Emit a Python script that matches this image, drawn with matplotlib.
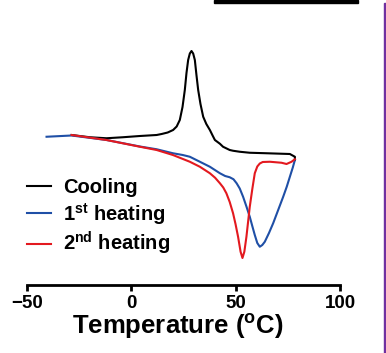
import matplotlib
matplotlib.use("Agg")
import matplotlib.pyplot as plt
from matplotlib.patches import Rectangle

plt.rcParams['font.family'] = ['Liberation Sans', 'DejaVu Sans']
plt.rcParams['font.weight'] = 'bold'
plt.rcParams['mathtext.fontset'] = 'custom'
plt.rcParams['mathtext.rm'] = 'Liberation Sans:bold'
plt.rcParams['mathtext.bf'] = 'Liberation Sans:bold'

# DSC traces (temperature in C, heat flow in arbitrary units)
cool_t = [78.4, 78.4, 76.0, 64.8, 56.8, 52.0, 48.8, 47.2, 44.0, 42.5, 40.1, 39.0,
          37.7, 36.0, 34.5, 33.2, 32.1, 31.3, 30.5, 29.7, 28.9, 28.1, 27.3, 26.5,
          25.7, 24.6, 23.3, 21.8, 20.1, 17.5, 14.6, 12.2, 4.2, -4.0, -11.8, -19.8, -28.5]
cool_q = [-0.28, -0.15, -0.04, -0.01, 0.01, 0.05, 0.09, 0.12, 0.25, 0.37, 0.52, 0.70,
          0.92, 1.16, 1.45, 1.96, 2.52, 3.10, 3.72, 3.98, 4.08, 3.98, 3.72, 3.20,
          2.52, 1.84, 1.32, 1.06, 0.92, 0.82, 0.76, 0.72, 0.68, 0.63, 0.59, 0.63, 0.72]

heat1_t = [-40.5, -28.5, -11.8, 4.2, 12.2, 20.0, 24.7, 28.1, 32.9, 37.7, 42.5, 45.0,
           47.2, 49.0, 50.5, 52.0, 53.6, 55.2, 56.8, 58.0, 59.2, 60.4, 61.6, 62.8,
           64.0, 66.0, 68.0, 70.4, 72.8, 74.5, 76.0, 77.4, 78.4]
heat1_q = [0.65, 0.70, 0.52, 0.26, 0.15, -0.01, -0.08, -0.15, -0.35, -0.55, -0.81, -0.92,
           -0.97, -1.05, -1.21, -1.42, -1.75, -2.14, -2.55, -2.92, -3.28, -3.60, -3.75, -3.68,
           -3.55, -3.20, -2.81, -2.28, -1.75, -1.35, -0.95, -0.58, -0.28]

heat2_t = [-28.5, -11.8, 4.2, 12.2, 20.0, 28.1, 32.9, 37.7, 40.2, 42.5, 44.1, 45.6,
           47.2, 48.8, 50.0, 51.2, 52.4, 53.3, 54.2, 55.2, 56.0, 56.8, 58.0, 59.2,
           60.4, 61.6, 63.0, 66.4, 72.0, 74.4, 76.8, 78.4]
heat2_q = [0.72, 0.52, 0.25, 0.12, -0.08, -0.35, -0.55, -0.81, -0.99, -1.21, -1.38, -1.61,
           -1.96, -2.41, -2.85, -3.35, -3.95, -4.20, -3.95, -3.35, -2.75, -2.15, -1.45, -0.81,
           -0.54, -0.42, -0.36, -0.35, -0.39, -0.44, -0.35, -0.25]

fig = plt.figure(figsize=(3.86, 3.53), dpi=100)
ax = fig.add_axes([26.7 / 386, 68 / 353, 313.3 / 386, 265 / 353])

ax.plot(cool_t, cool_q, color='black', lw=1.5, label='Cooling')
ax.plot(heat1_t, heat1_q, color='#1f4fa6', lw=1.5, label=r'1$^{\mathbf{st}}$ heating')
ax.plot(heat2_t, heat2_q, color='#e3191f', lw=1.5, label=r'2$^{\mathbf{nd}}$ heating')

ax.set_xlim(-50, 100)
ax.set_ylim(-5.28, 5.32)
ax.set_xticks([-50, 0, 50, 100])
ax.set_yticks([])
for s in ['left', 'top', 'right']:
    ax.spines[s].set_visible(False)
ax.spines['bottom'].set_linewidth(2)
ax.tick_params(axis='x', length=4, width=2, labelsize=13.5, pad=3)
ax.set_xlabel('Temperature ($^{\\mathbf{o}}$C)', fontsize=18.5, fontweight='bold', labelpad=0)
ax.xaxis.label.set_x(0.483)

ax.legend(loc='upper left', bbox_to_anchor=(17 / 386, 1 - 168 / 353),
          bbox_transform=fig.transFigure, frameon=False, fontsize=14.5,
          handlelength=1.2, handletextpad=0.6, labelspacing=0.18, borderpad=0)

# cropped bits from the source figure
fig.patches.append(Rectangle((214 / 386, 1 - 3.3 / 353), 143.7 / 386, 3.3 / 353,
                             transform=fig.transFigure, color='black'))
fig.patches.append(Rectangle((383.5 / 386, 0), 2.5 / 386, 1 - 3 / 353,
                             transform=fig.transFigure, color='#7030a0'))

fig.savefig('out.png', dpi=100)
